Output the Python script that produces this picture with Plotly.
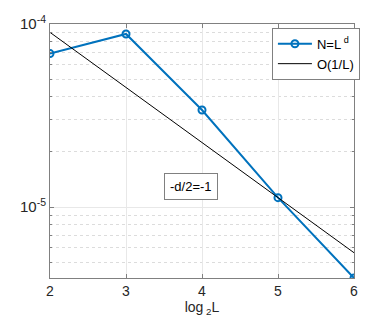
import plotly.graph_objects as go

# log2 L
log2_L = [2, 3, 4, 5, 6]
# N = L^d
err_N = [6.89e-5, 8.82e-5, 3.39e-5, 1.125e-5, 4.09e-6]
# O(1/L)
ref_O = [9.0e-5, 4.5e-5, 2.25e-5, 1.125e-5, 5.625e-6]

minor_vals = [k * 1e-6 for k in range(4, 10)] + [k * 1e-5 for k in range(2, 10)]

blue = '#0072BD'
axc = '#808080'
txt = '#262626'
font = 'Liberation Sans, Arial, sans-serif'

fig = go.Figure()

fig.add_trace(go.Scatter(
    x=log2_L, y=err_N, mode='lines+markers', name='N=L<sup> d</sup>',
    line=dict(color=blue, width=2),
    marker=dict(symbol='circle-open', size=7, color=blue, line=dict(width=2, color=blue)),
))
fig.add_trace(go.Scatter(
    x=log2_L, y=ref_O, mode='lines', name='O(1/L)',
    line=dict(color='black', width=1),
))

fig.add_annotation(
    x=3.86, y=-4.886, xref='x', yref='y', text='-d/2=-1', showarrow=False,
    font=dict(family=font, size=13, color='black'),
    bgcolor='white', bordercolor=axc, borderwidth=1, borderpad=5,
)

fig.update_layout(
    width=392, height=327,
    margin=dict(l=50, r=38, t=24, b=49),
    paper_bgcolor='white', plot_bgcolor='white',
    font=dict(family=font, size=13, color=txt),
    showlegend=True,
    legend=dict(
        x=0.73, y=0.985, xanchor='left', yanchor='top',
        bgcolor='white', bordercolor=axc, borderwidth=1,
        font=dict(family=font, size=13, color='black'),
        itemwidth=34, tracegroupgap=0,
    ),
    xaxis=dict(
        range=[2, 6], tickvals=log2_L, ticks='inside', ticklen=4,
        tickcolor=axc, showline=True, linecolor=axc, mirror='ticks',
        showgrid=True, gridcolor='#e8e8e8', zeroline=False, automargin=False,
        title=dict(text='log<sub> 2</sub>L', standoff=0, font=dict(size=14)),
        tickfont=dict(size=14, color=txt),
    ),
    yaxis=dict(
        type='log', range=[-5.388, -4], automargin=False,
        tickvals=[1e-5, 1e-4], ticktext=['10<sup>-5</sup>', '10<sup>-4</sup>'],
        ticks='inside', ticklen=4, tickcolor=axc,
        showline=True, linecolor=axc, mirror='ticks',
        showgrid=True, gridcolor='#e8e8e8', zeroline=False,
        tickfont=dict(size=15, color=txt),
        minor=dict(tickvals=minor_vals, ticks='inside', ticklen=2, tickcolor=axc,
                   showgrid=True, gridcolor='#dcdcdc', griddash='dot'),
    ),
)

# page body has an 8px default margin; remove it so the figure sits at 0,0
fig.write_html("out.html", config={'displayModeBar': False},
               post_script="document.body.style.margin='0';")
